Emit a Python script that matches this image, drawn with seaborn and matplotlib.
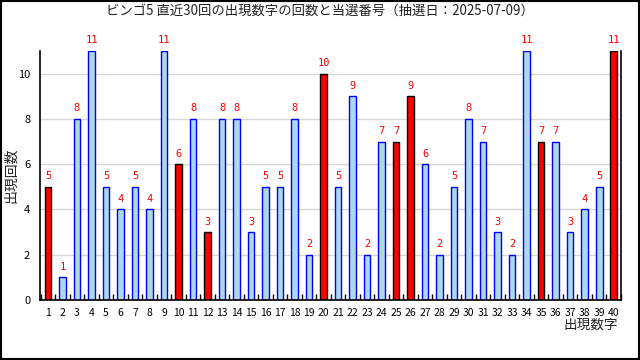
import matplotlib
matplotlib.use("Agg")
import matplotlib.pyplot as plt
import seaborn as sns
import pandas as pd
from matplotlib.patches import Rectangle
from matplotlib.ticker import FixedLocator

numbers = list(range(1, 41))
counts = [5, 1, 8, 11, 5, 4, 5, 4, 11, 6,
          8, 3, 8, 8, 3, 5, 5, 8, 2, 10,
          5, 9, 2, 7, 7, 9, 6, 2, 5, 8,
          7, 3, 2, 11, 7, 7, 3, 4, 5, 11]
winning = [1, 10, 12, 20, 25, 26, 35, 40]
title = "ビンゴ5 直近30回の出現数字の回数と当選番号（抽選日：2025-07-09）"
xlabel = "出現数字"
ylabel = "出現回数"

sns.set_theme(style="white")
plt.rcParams["font.family"] = ["Noto Sans CJK JP", "DejaVu Sans"]

df = pd.DataFrame({"num": numbers, "count": counts})
df["win"] = df["num"].isin(winning)

fig = plt.figure(figsize=(6.4, 3.6), dpi=100)
ax = fig.add_axes([40 / 640, 60 / 360, 581 / 640, 249 / 360])

ax.yaxis.grid(True, color="#d8d8d8", linewidth=1.0)
ax.set_axisbelow(True)

sns.barplot(data=df[~df["win"]], x="num", y="count", native_scale=True,
            color="#add8e6", edgecolor="blue", linewidth=1.0, width=0.45,
            saturation=1, ax=ax, errorbar=None)
sns.barplot(data=df[df["win"]], x="num", y="count", native_scale=True,
            color="red", edgecolor="black", linewidth=1.0, width=0.45,
            saturation=1, ax=ax, errorbar=None)

for cont in ax.containers:
    ax.bar_label(cont, padding=4, color="red", fontsize=7.5,
                 family=["DejaVu Sans Mono"])

ax.set_xlim(0.45, 40.5)
ax.set_ylim(0, 11)
ax.set_xticks(numbers)
ax.set_xticklabels([str(n) for n in numbers], fontsize=7.5)
ax.xaxis.set_minor_locator(FixedLocator([n + 0.5 for n in range(0, 41)]))
ax.tick_params(axis="x", which="major", length=0, pad=6, colors="black")
ax.tick_params(axis="x", which="minor", direction="in", length=4,
               width=1, color="black", bottom=True)
ax.set_yticks([0, 2, 4, 6, 8, 10])
ax.tick_params(axis="y", length=0, pad=7, labelsize=8, colors="black")

for s in ["left", "bottom", "right"]:
    ax.spines[s].set_visible(True)
    ax.spines[s].set_color("black")
    ax.spines[s].set_linewidth(1.2)
ax.spines["top"].set_visible(False)

ax.set_xlabel("")
ax.set_ylabel("")

fig.text(0.5, 1 - 11 / 360, title, ha="center", va="center", fontsize=9.6,
         color="#222222")
fig.text(11.5 / 640, 1 - 175 / 360, ylabel, ha="center", va="center",
         rotation=90, fontsize=10, color="#222222")
fig.text(618 / 640, 1 - 325 / 360, xlabel, ha="right", va="center",
         fontsize=9.8, color="#222222")

fig.patches.append(Rectangle((0.001, 0.003), 0.997, 0.995,
                             transform=fig.transFigure, fill=False,
                             edgecolor="black", linewidth=1.5))

fig.savefig("out.png", dpi=100)
